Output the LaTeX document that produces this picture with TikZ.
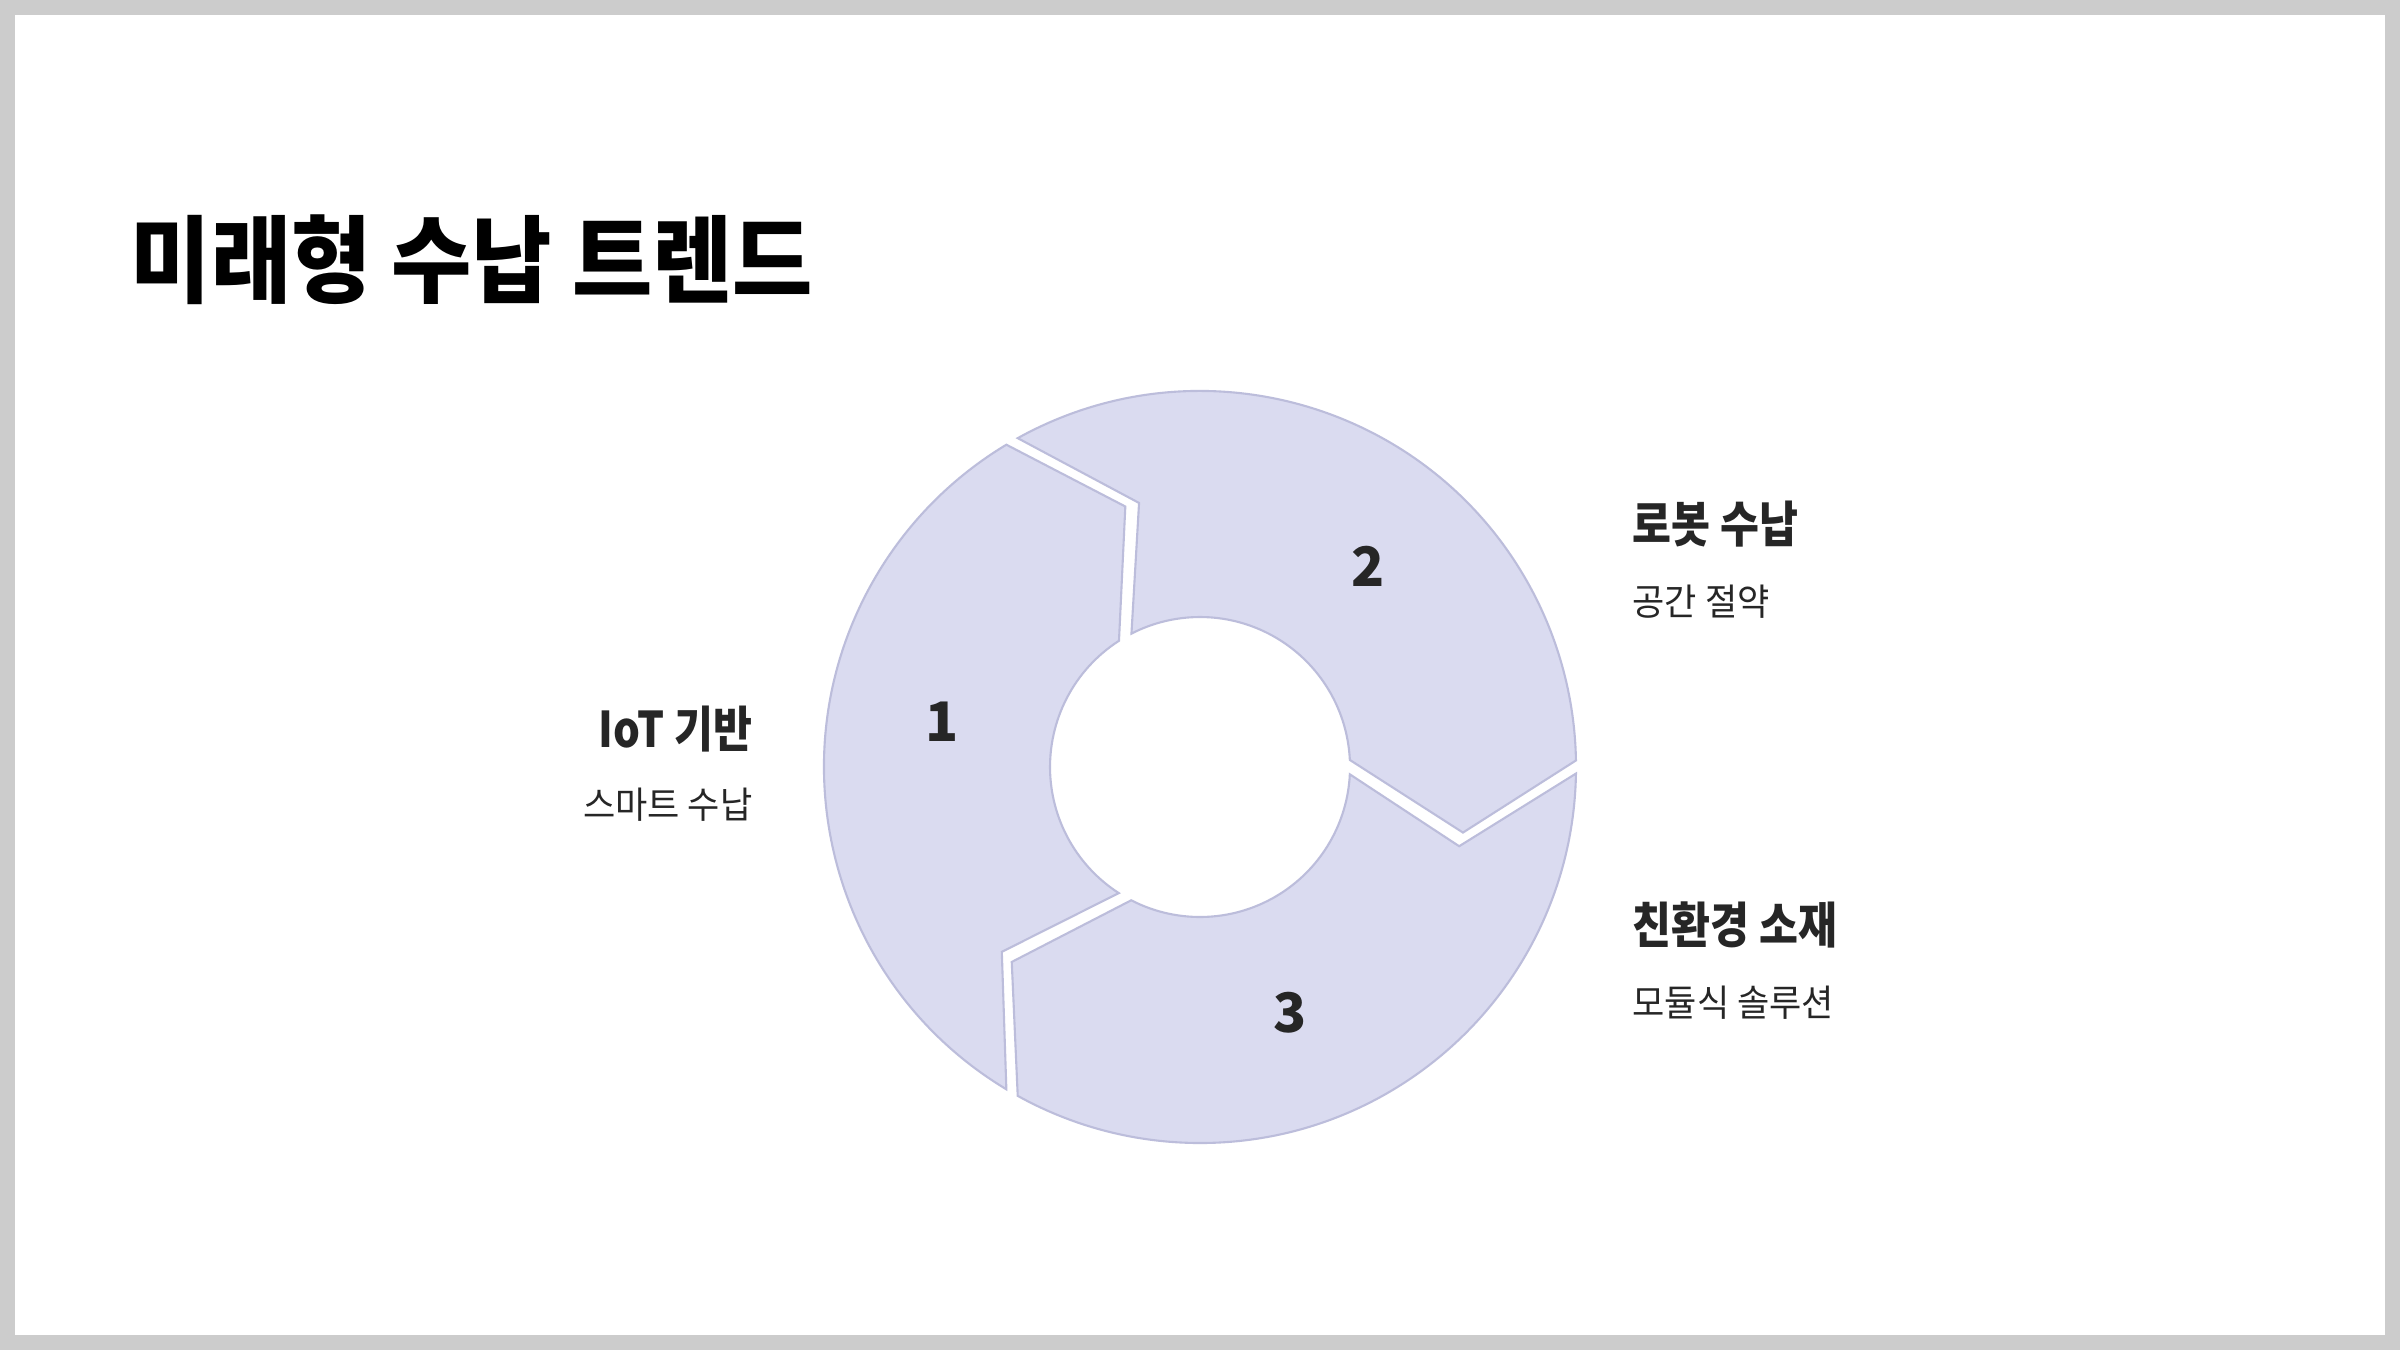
\documentclass[tikz,border=0pt]{standalone}
\usepackage{fontspec}
\setmainfont{Noto Sans CJK KR}[FakeStretch=0.86]
\newfontfamily\titlefont{Noto Sans CJK KR}[FakeStretch=0.92]
\newfontfamily\subfont{Noto Sans CJK KR}[FakeStretch=0.95]
\newfontfamily\numfont{Noto Sans CJK KR}
\definecolor{ringfill}{HTML}{DADBF0}
\definecolor{ringline}{HTML}{BCBDDB}
\definecolor{framegray}{HTML}{CCCCCC}
\definecolor{labeltext}{HTML}{262626}

\begin{document}
\begin{tikzpicture}[
  segment/.style={fill=ringfill, draw=ringline, line width=0.6pt},
  numlabel/.style={font=\numfont\fontsize{15.5}{15.5}\selectfont\bfseries, text=labeltext},
  head/.style={font=\fontsize{14}{14}\selectfont\bfseries, text=labeltext, inner sep=0pt},
  sub/.style={font=\subfont\fontsize{10.5}{10.5}\selectfont, text=labeltext, inner sep=0pt}
]

% frame
\fill[framegray] (0,0) rectangle (24,13.5);
\fill[white] (0.15,0.15) rectangle (23.85,13.35);

\node[anchor=west, inner sep=0pt, font=\titlefont\fontsize{27}{27}\selectfont\bfseries] (title) at (1.3,10.9) {미래형 수납 트렌드};

% ring of three arrows
\begin{scope}[shift={(12,5.83)}]
\foreach \c/\n in {180/1, 60/2, -60/3} {
  \draw[segment] ({\c+59}:3.76) arc[start angle={\c+59}, end angle={\c-59}, radius=3.76]
    -- ({\c-74}:2.71) -- ({\c-57.3}:1.5)
    arc[start angle={\c-57.3}, end angle={\c+57.2}, radius=1.5]
    -- ({\c+43}:2.71) -- cycle;
  \node[numlabel] (num\n) at ({\c-10}:2.62) {\n};
}
\end{scope}

% labels
\node[head, anchor=east] (iot) at (7.53,6.21) {IoT 기반};
\node[sub, anchor=east] (iotsub) at (7.53,5.45) {스마트 수납};
\node[head, anchor=west] (robot) at (16.32,8.26) {로봇 수납};
\node[sub, anchor=west] (robotsub) at (16.32,7.48) {공간 절약};
\node[head, anchor=west] (eco) at (16.32,4.25) {친환경 소재};
\node[sub, anchor=west] (ecosub) at (16.32,3.47) {모듈식 솔루션};

\end{tikzpicture}
\end{document}
